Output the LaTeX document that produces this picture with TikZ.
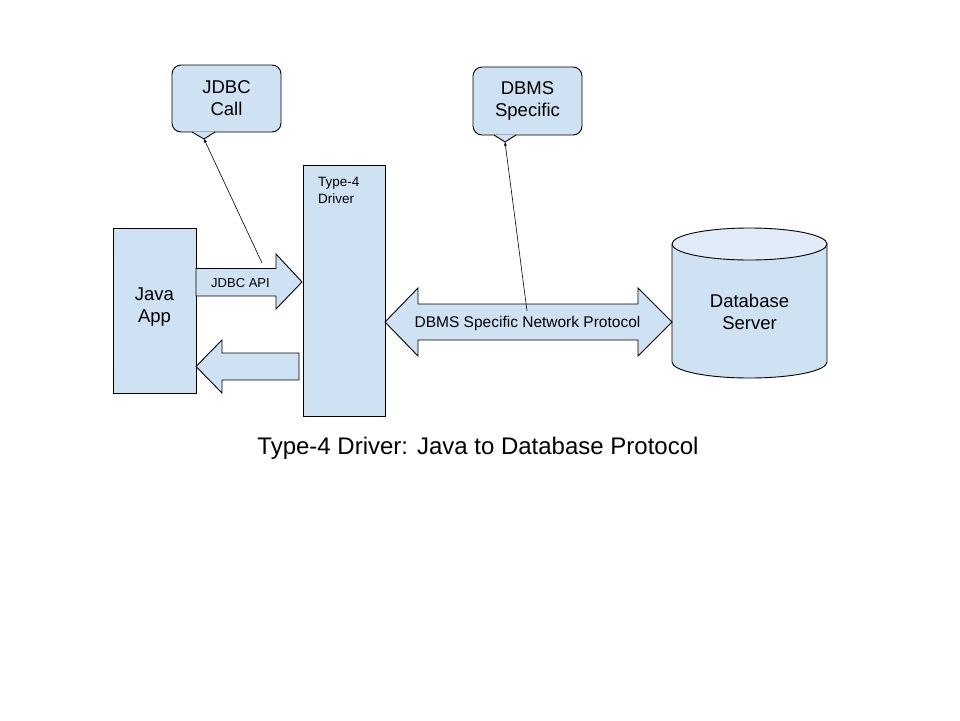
\documentclass[tikz,border=0pt]{standalone}
\usepackage{fontspec}
\setmainfont{Liberation Sans}
\usetikzlibrary{arrows.meta}
\definecolor{lb}{HTML}{CFE2F3}
\definecolor{lbt}{HTML}{E1ECF8}
\tikzset{
  box/.style={draw=black, fill=lb, line width=0.9pt, inner sep=0pt},
  blockarrow/.style={draw=black, fill=lb, line width=0.9pt, line join=miter},
  callout/.style={draw=black, fill=lb, line width=0.9pt, rounded corners=9pt},
  lbl/.style={inner sep=0pt, align=center, text=black},
  pointer/.style={draw=black, line width=0.6pt, -{Stealth[length=4pt,width=3pt]}},
}
\begin{document}
\begin{tikzpicture}[x=1pt,y=-1pt]
\useasboundingbox (0,0) rectangle (960,720);
\fill[white] (0,0) rectangle (960,720);

% Java App
\node[box, minimum width=83pt, minimum height=165pt] (java) at (154.5,310.5) {};
\node[lbl, font=\fontsize{18.5}{22}\selectfont] (javat) at (154.5,307.5) {Java\\App};

% Driver
\node[box, minimum width=82pt, minimum height=251pt] (driver) at (344,290.5) {};
\node[lbl, anchor=north west, align=left, font=\fontsize{13.5}{17.5}\selectfont] (drivert) at (318,177) {Type-4\\Driver};

% JDBC API arrow
\path[blockarrow] (196,268.5) -- (276,268.5) -- (276,254) -- (302,282) -- (276,309) -- (276,296) -- (196,296) -- cycle;
\node[lbl, font=\fontsize{13}{15}\selectfont] (api) at (240.5,283) {JDBC API};

% return arrow
\path[blockarrow] (299,353) -- (222,353) -- (222,340) -- (196,366.5) -- (222,393) -- (222,380) -- (299,380) -- cycle;

% Database cylinder
\path[fill=lb] (672,244) -- (672,362) arc[start angle=180, end angle=0, x radius=77.5, y radius=16] -- (827,244) -- cycle;
\draw[line width=0.9pt] (672,244) -- (672,362) arc[start angle=180, end angle=0, x radius=77.5, y radius=16] -- (827,244);
\draw[line width=0.9pt, fill=lbt] (749.5,244) ellipse [x radius=77.5, y radius=16];
\node[lbl, font=\fontsize{18.5}{22}\selectfont] (db) at (749.5,312) {Database\\Server};

% double arrow
\path[blockarrow] (385,322) -- (418,288) -- (418,304) -- (638,304) -- (638,288) -- (672,322) -- (638,356) -- (638,340) -- (418,340) -- (418,356) -- cycle;
\node[lbl, font=\fontsize{15.5}{18}\selectfont] (proto) at (527.5,323) {DBMS Specific Network Protocol};

% JDBC Call callout
\node[callout, minimum width=109pt, minimum height=67pt] (jbox) at (226.5,98.5) {};
\coordinate (jtip) at (204,139);
\fill[lb] (192,131.5) -- (204,139) -- (215,131.5) -- cycle;
\draw[line width=0.9pt, line join=miter] (192,132) -- (jtip) -- (215,132);
\node[lbl, font=\fontsize{18.5}{22}\selectfont] (jcall) at (226.5,98.5) {JDBC\\Call};
\coordinate (jfrom) at (262,263);
\draw[pointer] (jfrom) -- (jtip);

% DBMS Specific callout
\node[callout, minimum width=109pt, minimum height=68pt] (dbox) at (527.5,101) {};
\coordinate (dtip) at (505,142);
\fill[lb] (494,134.5) -- (505,142) -- (516,134.5) -- cycle;
\draw[line width=0.9pt, line join=miter] (494,135) -- (dtip) -- (516,135);
\node[lbl, font=\fontsize{18.5}{22}\selectfont] (dcall) at (527.5,101) {DBMS\\Specific};
\coordinate (dfrom) at (527,311);
\draw[pointer] (dfrom) -- (dtip);

% caption
\node[lbl, font=\fontsize{24}{28}\selectfont] (cap) at (478,448) {Type-4 Driver: Java to Database Protocol};
\end{tikzpicture}
\end{document}
